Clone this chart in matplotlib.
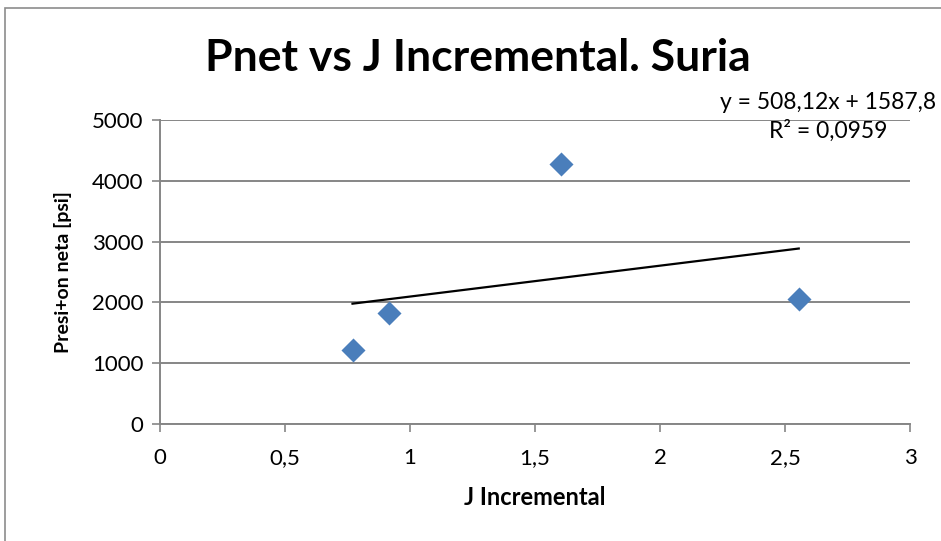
import matplotlib

matplotlib.use("Agg")

import matplotlib.pyplot as plt
import numpy as np
from matplotlib.patches import Rectangle
from matplotlib.ticker import FuncFormatter

# datos
j_incremental = [0.77, 0.915, 1.605, 2.555]
p_neta = [1225, 1820, 4270, 2050]
slope = 508.12
intercept = 1587.8
eq_label = "y = 508,12x + 1587,8"
r2_label = "R² = 0,0959"
x_ticks = [0, 0.5, 1, 1.5, 2, 2.5, 3]
y_ticks = [0, 1000, 2000, 3000, 4000, 5000]

plt.rcParams["font.family"] = ["Lato", "DejaVu Sans"]

fig = plt.figure(figsize=(9.41, 5.41), dpi=100)
ax = fig.add_axes([160 / 941, 1 - 424 / 541, 750 / 941, 304 / 541])

# marco exterior del área del gráfico
fig.patches.append(Rectangle((5 / 941, -0.1), 1.2, 1 - 8 / 541 + 0.1,
                             transform=fig.transFigure, fill=False,
                             edgecolor="#8c8c8c", linewidth=1.2))

ax.scatter(j_incremental, p_neta, marker="D", s=150, color="#4a7ebb",
           zorder=3, linewidths=0)

x_fit = np.array([min(j_incremental), max(j_incremental)])
ax.plot(x_fit, slope * x_fit + intercept, color="black", linewidth=1.6, zorder=2)

ax.set_xlim(0, 3)
ax.set_ylim(0, 5000)
ax.set_xticks(x_ticks)
ax.set_yticks(y_ticks)
comma = FuncFormatter(lambda v, _: f"{v:g}".replace(".", ","))
ax.xaxis.set_major_formatter(comma)
ax.yaxis.set_major_formatter(comma)
ax.tick_params(axis="both", labelsize=16, color="#868686", length=6,
               width=1.2, direction="out")
ax.tick_params(axis="x", pad=11)
ax.tick_params(axis="y", pad=6)
ax.grid(axis="y", color="#868686", linewidth=1.4)
ax.set_axisbelow(True)
for side in ["top", "right"]:
    ax.spines[side].set_visible(False)
for side in ["left", "bottom"]:
    ax.spines[side].set_color("#868686")
    ax.spines[side].set_linewidth(1.4)

ax.set_xlabel("J Incremental", fontsize=17, fontweight="bold", labelpad=13)
ax.set_ylabel("Presi+on neta [psi]", fontsize=14, fontweight="bold", labelpad=14)

fig.text(478 / 941, 1 - 58 / 541, "Pnet vs J Incremental. Suria",
         fontsize=32, fontweight="bold", ha="center", va="center")
fig.text(828 / 941, 1 - 117 / 541, eq_label + "\n" + r2_label,
         fontsize=16.5, ha="center", va="center", linespacing=1.35)

fig.savefig("out.png", dpi=100)
